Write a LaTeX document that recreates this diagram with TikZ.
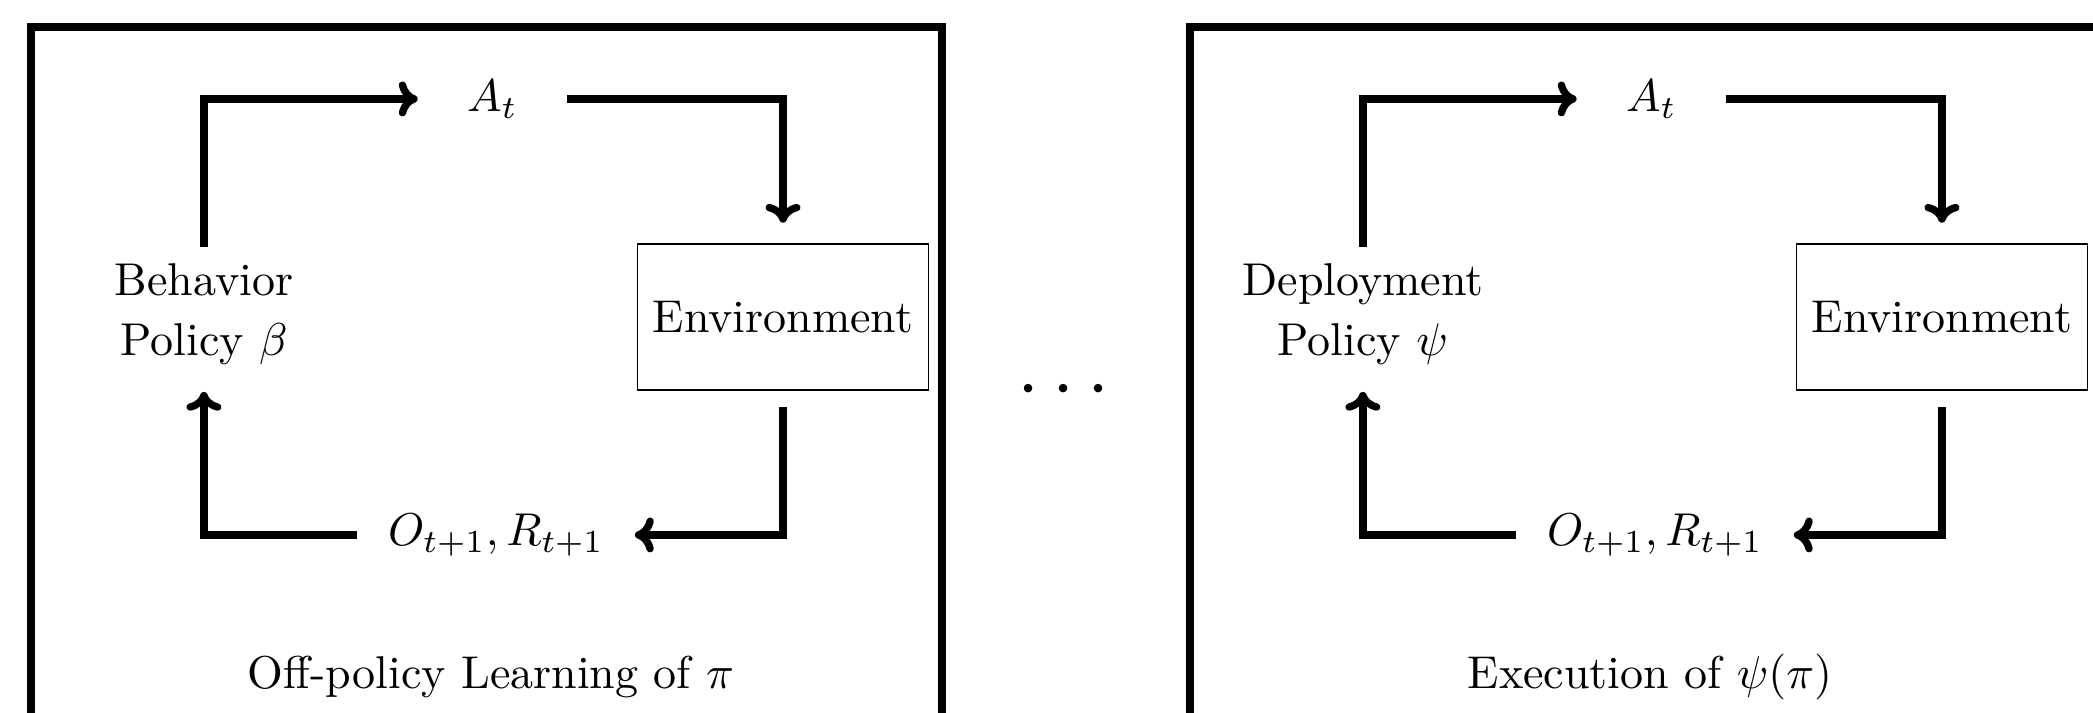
\documentclass[tikz,border=0pt]{standalone}
\usepackage{amsmath,amssymb}
\usepackage{tikz}
\usetikzlibrary{positioning,arrows.meta,calc}
\tikzset{
frame/.style={
draw,
line width=1.6pt
},
envbox/.style={
draw,
thin,
minimum width=2.2cm,
minimum height=1.11cm,
align=center
},
agent/.style={
align=center
},
signal/.style={
inner sep=4pt
},
arrow/.style={
-{Computer Modern Rightarrow[length=4.1pt,width=7.6pt]},
line width=1.6pt
}
}
\begin{document}
\begin{tikzpicture}
\useasboundingbox (0,0) rectangle (15.99,-5.447);
\clip (0,0) rectangle (15.99,-5.447);

% off-policy learning
\draw[frame] (0.237,-0.206) rectangle (7.196,-6.5);
\node[agent](beh) at (1.558,-2.399){Behavior\\[1pt]Policy $\beta$};
\node[signal,minimum width=1.13cm](act1) at (3.763,-0.756){$A_t$};
\node[envbox](env1) at (5.982,-2.422){Environment};
\node[signal,inner xsep=6.5pt](obs1) at (3.79,-4.087){$O_{t+1}, R_{t+1}$};
\node(cap1) at (3.751,-5.172){Off-policy Learning of $\pi$};

\draw[arrow](beh.north)|-(act1.west);
\draw[arrow,shorten >=4.5pt](act1.east)-|(env1.north);
\draw[arrow,shorten <=3.5pt](env1.south)|-(obs1.east);
\draw[arrow,shorten >=2.4pt](obs1.west)-|(beh.south);

\node[font=\fontsize{19}{20}\selectfont](dots) at (8.178,-2.986){$\cdots$};

% execution
\begin{scope}[xshift=8.854cm]
\draw[frame] (0.237,-0.206) rectangle (7.196,-6.5);
\node[agent](dep) at (1.558,-2.399){Deployment\\[1pt]Policy $\psi$};
\node[signal,minimum width=1.13cm](act2) at (3.763,-0.756){$A_t$};
\node[envbox](env2) at (5.982,-2.422){Environment};
\node[signal,inner xsep=6.5pt](obs2) at (3.79,-4.087){$O_{t+1}, R_{t+1}$};
\node(cap2) at (3.751,-5.172){Execution of $\psi(\pi)$};

\draw[arrow](dep.north)|-(act2.west);
\draw[arrow,shorten >=4.5pt](act2.east)-|(env2.north);
\draw[arrow,shorten <=3.5pt](env2.south)|-(obs2.east);
\draw[arrow,shorten >=2.4pt](obs2.west)-|(dep.south);
\end{scope}
\end{tikzpicture}
\end{document}
